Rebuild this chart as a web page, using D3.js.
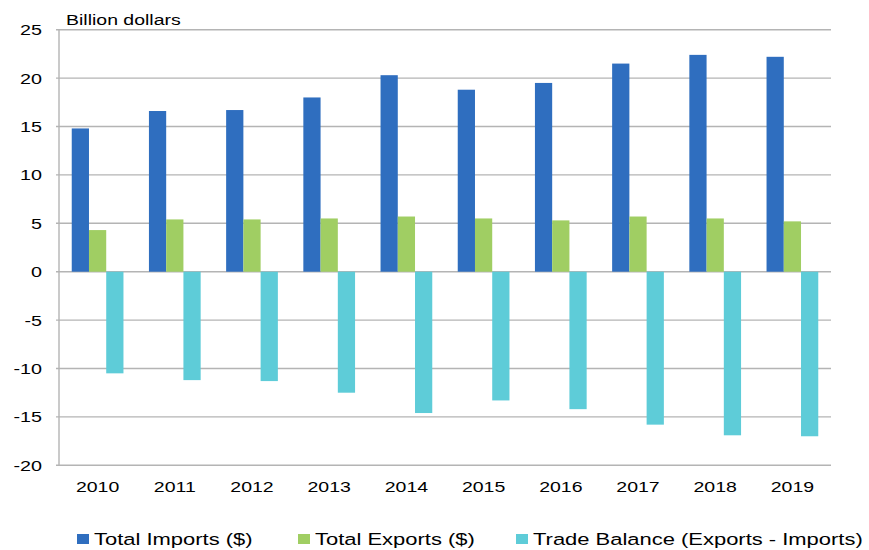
<!DOCTYPE html>
<html>
<head>
<meta charset="utf-8">
<script src="https://cdn.jsdelivr.net/npm/d3@7"></script>
<style>
  html, body { margin: 0; padding: 0; background: #fff; }
  svg { display: block; }
  text { font-family: "Liberation Sans", Arial, sans-serif; fill: #000; }
</style>
</head>
<body>
<svg id="chart" width="869" height="550"></svg>
<script>
// Annual trade figures, billion dollars
const years = ["2010", "2011", "2012", "2013", "2014", "2015", "2016", "2017", "2018", "2019"];
const totalImports = [14.8, 16.6, 16.7, 18.0, 20.3, 18.8, 19.5, 21.5, 22.4, 22.2];
const totalExports = [4.3, 5.4, 5.4, 5.5, 5.7, 5.5, 5.3, 5.7, 5.5, 5.2];
const tradeBalance = [-10.5, -11.2, -11.3, -12.5, -14.6, -13.3, -14.2, -15.8, -16.9, -17.0];

const seriesNames = ["Total Imports ($)", "Total Exports ($)", "Trade Balance (Exports - Imports)"];
const seriesColors = ["#2F6EBF", "#A0CE63", "#5ECCD8"];
const yTicks = [-20, -15, -10, -5, 0, 5, 10, 15, 20, 25];
const yTitle = "Billion dollars";

const series = [totalImports, totalExports, tradeBalance];

// Text in this chart is set a little wide
const STRETCH = 1.3;

const svg = d3.select("#chart");
const plotLeft = 59, plotRight = 831, plotTop = 29.7, plotBottom = 465.3;

const y = d3.scaleLinear().domain([-20, 25]).range([plotBottom, plotTop]);
const x = d3.scaleBand().domain(years).range([plotLeft, plotRight])
  .paddingInner(0.33).paddingOuter(0.165);
const xs = d3.scaleBand().domain(d3.range(series.length)).range([0, x.bandwidth()]);

function stretchedText(g, tx, ty, str, size, anchor) {
  return g.append("text")
    .attr("transform", `translate(${tx},${ty}) scale(${STRETCH},1)`)
    .attr("text-anchor", anchor || "start")
    .style("font-size", size + "px")
    .text(str);
}

// Gridlines
svg.append("g").selectAll("line").data(yTicks).join("line")
  .attr("x1", plotLeft - 3).attr("x2", plotRight)
  .attr("y1", d => y(d)).attr("y2", d => y(d))
  .attr("stroke", "#B4B4B4").attr("stroke-width", 1.4);

// Vertical axis line
svg.append("line")
  .attr("x1", plotLeft).attr("x2", plotLeft)
  .attr("y1", y(25)).attr("y2", y(-20))
  .attr("stroke", "#B4B4B4").attr("stroke-width", 1.4);

// Bars
const groups = svg.append("g").selectAll("g").data(years).join("g")
  .attr("transform", d => `translate(${x(d)},0)`);
groups.each(function (yr, i) {
  const g = d3.select(this);
  series.forEach((s, k) => {
    const v = s[i];
    g.append("rect")
      .attr("x", xs(k))
      .attr("width", xs.bandwidth())
      .attr("y", y(Math.max(0, v)))
      .attr("height", Math.abs(y(v) - y(0)))
      .attr("fill", seriesColors[k]);
  });
});

// Y tick labels
const yl = svg.append("g");
yTicks.forEach(t => stretchedText(yl, 42, y(t) + 5.5, String(t), 15.2, "end"));

// Y axis title
stretchedText(svg, 66, 25, yTitle, 15, "start");

// X tick labels
const xl = svg.append("g");
years.forEach(yr => stretchedText(xl, x(yr) + x.bandwidth() / 2, 491.5, yr, 15, "middle"));

// Legend: swatch + label per series, laid out left to right
const legendSlots = [77, 298, 516];
const lg = svg.append("g");
seriesNames.forEach((name, k) => {
  const lx = legendSlots[k];
  lg.append("rect").attr("x", lx).attr("y", 534).attr("width", 12).attr("height", 10)
    .attr("fill", seriesColors[k]);
  stretchedText(lg, lx + 17, 544.5, name, 16.9, "start");
});
</script>
</body>
</html>
